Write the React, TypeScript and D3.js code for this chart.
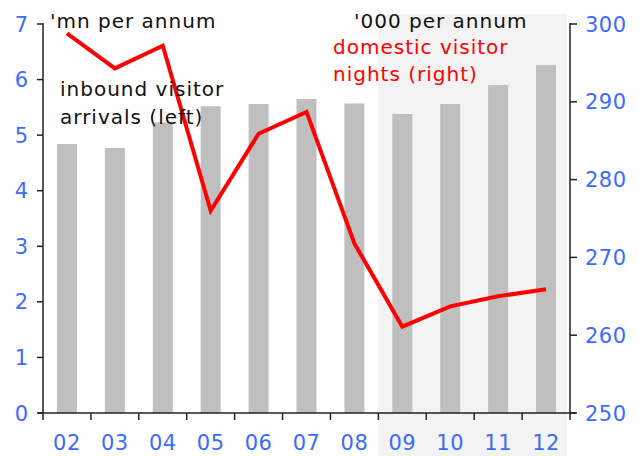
import React from "react";
import * as d3 from "d3";

const categories = ["02", "03", "04", "05", "06", "07", "08", "09", "10", "11", "12"];
const arrivals = [4.84, 4.77, 5.23, 5.52, 5.56, 5.65, 5.57, 5.38, 5.56, 5.9, 6.26];
const nights = [298.8, 294.3, 297.2, 276.0, 285.9, 288.7, 271.8, 261.1, 263.7, 265.0, 265.9];
const leftTicks = [0, 1, 2, 3, 4, 5, 6, 7];
const rightTicks = [250, 260, 270, 280, 290, 300];
const shadedFrom = "09";

const W = 639, H = 456;
const L = 43, R = 570, T = 24, B = 413;
const FONT = "'DejaVu Sans', Verdana, sans-serif";
const BLUE = "#3d6bff";

export default function App() {
  const xb = d3.scaleBand<string>().domain(categories).range([L, R]);
  const yL = d3.scaleLinear().domain([0, 7]).range([B, T]);
  const yR = d3.scaleLinear().domain([250, 300]).range([B, T]);
  const line = d3.line<number>()
    .x((_, i) => (xb(categories[i]) as number) + xb.bandwidth() / 2)
    .y((d) => yR(d));
  const shadeX = xb(shadedFrom) as number;
  const bw = xb.bandwidth();
  const ls = 1;
  return (
    <svg width={W} height={H} style={{ position: "absolute", left: 0, top: 0 }} fontFamily={FONT}>
      <rect x={shadeX} y={14} width={R - 3 - shadeX} height={H - 14} fill="#f3f3f3" />
      {categories.map((c, i) => {
        const bx = (xb(c) as number) + bw / 2 - 10;
        return <rect key={c} x={bx} y={yL(arrivals[i])} width={20} height={B - yL(arrivals[i])} fill="#bfbfbf" />;
      })}
      <path d={line(nights) || ""} fill="none" stroke="#ff0000" strokeWidth={4} strokeLinejoin="miter" />
      <line x1={L} x2={L} y1={T - 1} y2={B} stroke="#222" strokeWidth={1.5} />
      <line x1={R} x2={R} y1={T - 1} y2={B} stroke="#222" strokeWidth={1.5} />
      <line x1={L - 5} x2={R + 6} y1={B} y2={B} stroke="#222" strokeWidth={1.5} />
      {leftTicks.map((t) => (
        <g key={"l" + t}>
          <line x1={L - 6} x2={L} y1={yL(t)} y2={yL(t)} stroke="#222" strokeWidth={1.5} />
          <text x={28} y={yL(t)} dy="0.36em" textAnchor="end" fontSize={21} fill={BLUE}>{t}</text>
        </g>
      ))}
      {rightTicks.map((t) => (
        <g key={"r" + t}>
          <line x1={R} x2={R + 7} y1={yR(t)} y2={yR(t)} stroke="#222" strokeWidth={1.5} />
          <text x={585} y={yR(t)} dy="0.36em" textAnchor="start" fontSize={21} letterSpacing={0.5} fill={BLUE}>{t}</text>
        </g>
      ))}
      {categories.map((c) => (
        <line key={"t" + c} x1={xb(c) as number} x2={xb(c) as number} y1={B} y2={B + 7} stroke="#222" strokeWidth={1.5} />
      ))}
      <line x1={R} x2={R} y1={B} y2={B + 7} stroke="#222" strokeWidth={1.5} />
      {categories.map((c) => (
        <text key={"x" + c} x={(xb(c) as number) + bw / 2} y={450} textAnchor="middle" fontSize={21} letterSpacing={0.5} fill={BLUE}>{c}</text>
      ))}
      <text x={50} y={28} fontSize={20} letterSpacing={ls} fill="#111">'mn per annum</text>
      <text x={60} y={96} fontSize={20} letterSpacing={ls} fill="#111">inbound visitor</text>
      <text x={60} y={124} fontSize={20} letterSpacing={ls} fill="#111">arrivals (left)</text>
      <text x={354} y={28} fontSize={20} letterSpacing={ls} fill="#111">'000 per annum</text>
      <text x={333} y={54} fontSize={20} letterSpacing={ls} fill="#ff0000">domestic visitor</text>
      <text x={333} y={81} fontSize={20} letterSpacing={ls} fill="#ff0000">nights (right)</text>
    </svg>
  );
}
